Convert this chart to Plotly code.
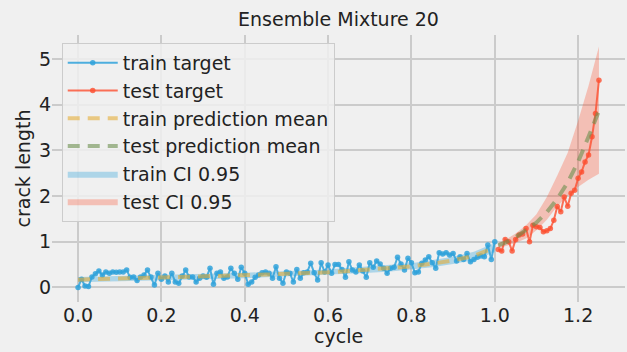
import numpy as np
import plotly.graph_objects as go

# ---------------- data ----------------
train_target = [
    0.00, 0.18, 0.03, 0.02, 0.23, 0.30, 0.36, 0.27, 0.34, 0.31,
    0.34, 0.33, 0.34, 0.34, 0.38, 0.22, 0.23, 0.15, 0.23, 0.27,
    0.38, 0.23, 0.05, 0.31, 0.18, 0.25, 0.12, 0.31, 0.12, 0.09,
    0.25, 0.38, 0.23, 0.23, 0.12, 0.20, 0.25, 0.22, 0.42, 0.07,
    0.31, 0.34, 0.20, 0.23, 0.42, 0.31, 0.18, 0.44, 0.31, 0.07,
    0.12, 0.22, 0.27, 0.32, 0.34, 0.31, 0.20, 0.45, 0.20, 0.09,
    0.34, 0.31, 0.12, 0.39, 0.20, 0.32, 0.34, 0.53, 0.32, 0.16,
    0.54, 0.34, 0.49, 0.31, 0.50, 0.50, 0.39, 0.22, 0.56, 0.38,
    0.34, 0.49, 0.36, 0.22, 0.54, 0.44, 0.58, 0.51, 0.42, 0.31,
    0.42, 0.44, 0.66, 0.51, 0.38, 0.64, 0.54, 0.32, 0.34, 0.53,
    0.60, 0.67, 0.54, 0.42, 0.76, 0.73, 0.76, 0.71, 0.74, 0.58,
    0.67, 0.61, 0.74, 0.56, 0.61, 0.66, 0.69, 0.67, 0.93, 0.61, 1.00,
]
train_cycle = np.linspace(0.0, 1.0, len(train_target))

test_target = [
    0.83, 0.80, 1.05, 1.00, 0.80, 1.05, 1.15, 1.17, 1.29, 1.00,
    1.36, 1.33, 1.31, 1.22, 1.24, 1.29, 1.47, 1.77, 1.66, 1.98,
    1.78, 2.06, 2.13, 2.39, 2.53, 2.75, 2.90, 3.30, 3.81, 4.54,
]
test_cycle = np.linspace(1.0 + 1.0 / 120, 1.25, len(test_target))

train_pred_cycle = [0.00, 0.05, 0.10, 0.15, 0.20, 0.25, 0.30, 0.35, 0.40, 0.45, 0.50,
                    0.55, 0.60, 0.65, 0.70, 0.75, 0.80, 0.85, 0.90, 0.95, 1.00]
train_pred_mean = [0.17, 0.18, 0.19, 0.20, 0.21, 0.22, 0.23, 0.24, 0.26, 0.28, 0.30,
                   0.31, 0.33, 0.36, 0.39, 0.42, 0.46, 0.52, 0.59, 0.69, 0.87]
train_ci_lower = [0.11, 0.12, 0.13, 0.14, 0.15, 0.16, 0.17, 0.18, 0.20, 0.22, 0.24,
                  0.25, 0.27, 0.29, 0.32, 0.35, 0.39, 0.44, 0.51, 0.60, 0.77]
train_ci_upper = [0.23, 0.24, 0.25, 0.26, 0.27, 0.28, 0.29, 0.30, 0.32, 0.34, 0.36,
                  0.37, 0.39, 0.43, 0.46, 0.49, 0.53, 0.60, 0.67, 0.78, 0.97]

test_pred_cycle = [1.0083, 1.025, 1.05, 1.075, 1.10, 1.125, 1.15, 1.175, 1.20, 1.225, 1.25]
test_pred_mean = [0.92, 0.98, 1.10, 1.25, 1.42, 1.65, 1.94, 2.30, 2.75, 3.30, 3.87]
test_ci_lower = [0.86, 0.90, 0.97, 1.07, 1.25, 1.48, 1.78, 2.00, 2.20, 2.36, 2.49]
test_ci_upper = [0.97, 1.04, 1.18, 1.36, 1.60, 1.98, 2.45, 2.95, 3.65, 4.42, 5.28]

x_ticks = [0.0, 0.2, 0.4, 0.6, 0.8, 1.0, 1.2]
y_ticks = [0, 1, 2, 3, 4, 5]

title_text = "Ensemble Mixture 20"
x_label = "cycle"
y_label = "crack length"

# ---------------- styles ----------------
BLUE = "#30a2da"
RED = "#fc4f30"
BG = "#f0f0f0"
GRID = "#cbcbcb"
FONT = "DejaVu Sans"
TEXT = "#222222"

fig = go.Figure()

# CI bands
fig.add_trace(go.Scatter(x=train_pred_cycle, y=train_ci_lower, mode="lines",
                         line=dict(width=0, color=BLUE), showlegend=False, hoverinfo="skip"))
fig.add_trace(go.Scatter(x=train_pred_cycle, y=train_ci_upper, mode="lines",
                         line=dict(width=0, color=BLUE), fill="tonexty",
                         fillcolor="rgba(48,162,218,0.35)", name="train CI 0.95", legendrank=5))
fig.add_trace(go.Scatter(x=test_pred_cycle, y=test_ci_lower, mode="lines",
                         line=dict(width=0, color=RED), showlegend=False, hoverinfo="skip"))
fig.add_trace(go.Scatter(x=test_pred_cycle, y=test_ci_upper, mode="lines",
                         line=dict(width=0, color=RED), fill="tonexty",
                         fillcolor="rgba(252,79,48,0.3)", name="test CI 0.95", legendrank=6))

# targets
fig.add_trace(go.Scatter(x=train_cycle, y=train_target, mode="lines+markers",
                         line=dict(width=2, color="rgba(48,162,218,0.85)"),
                         marker=dict(size=5.5, color="rgba(48,162,218,0.85)"),
                         name="train target", legendrank=1))
fig.add_trace(go.Scatter(x=test_cycle, y=test_target, mode="lines+markers",
                         line=dict(width=2, color="rgba(252,79,48,0.8)"),
                         marker=dict(size=5.5, color="rgba(252,79,48,0.8)"),
                         name="test target", legendrank=2))

# prediction means
fig.add_trace(go.Scatter(x=train_pred_cycle, y=train_pred_mean, mode="lines",
                         line=dict(width=4, color="rgba(229,174,56,0.6)", dash="12px,8px"),
                         name="train prediction mean", legendrank=3))
fig.add_trace(go.Scatter(x=test_pred_cycle, y=test_pred_mean, mode="lines",
                         line=dict(width=4, color="rgba(109,144,79,0.6)", dash="12px,8px"),
                         name="test prediction mean", legendrank=4))

fig.update_layout(
    width=627, height=352,
    margin=dict(l=52, r=2, t=35, b=50),
    paper_bgcolor=BG, plot_bgcolor=BG,
    font=dict(family=FONT, size=19, color=TEXT),
    title=dict(text=title_text, x=0.5, xref="paper", xanchor="center",
               y=1 - 19.5 / 352, yref="container", yanchor="middle",
               font=dict(family=FONT, size=19, color=TEXT)),
    legend=dict(x=0.017, y=0.97, xanchor="left", yanchor="top",
                traceorder="normal", itemwidth=50,
                bgcolor="rgba(240,240,240,0.85)", bordercolor="#cccccc", borderwidth=1,
                font=dict(family=FONT, size=19, color=TEXT),
                tracegroupgap=0),
    showlegend=True,
    annotations=[
        dict(text=x_label, xref="paper", yref="paper", x=0.5, y=-33.5 / 267,
             xanchor="center", yanchor="middle", showarrow=False,
             font=dict(family=FONT, size=19, color=TEXT)),
        dict(text=y_label, xref="paper", yref="paper", x=-30 / 573, y=0.5,
             xanchor="center", yanchor="middle", textangle=-90, showarrow=False,
             font=dict(family=FONT, size=19, color=TEXT)),
    ],
)
fig.update_xaxes(range=[-0.0625, 1.3125], tickvals=x_ticks,
                 ticktext=[f"{v:.1f}" for v in x_ticks],
                 showgrid=True, gridcolor=GRID, gridwidth=1.5, zeroline=False,
                 showline=False, ticks="", ticklen=0)
fig.update_yaxes(range=[-0.32, 5.53], tickvals=y_ticks,
                 ticktext=[str(v) for v in y_ticks],
                 showgrid=True, gridcolor=GRID, gridwidth=1.5, zeroline=False,
                 showline=False, ticks="", ticklen=0)

fig.write_html("out.html")
